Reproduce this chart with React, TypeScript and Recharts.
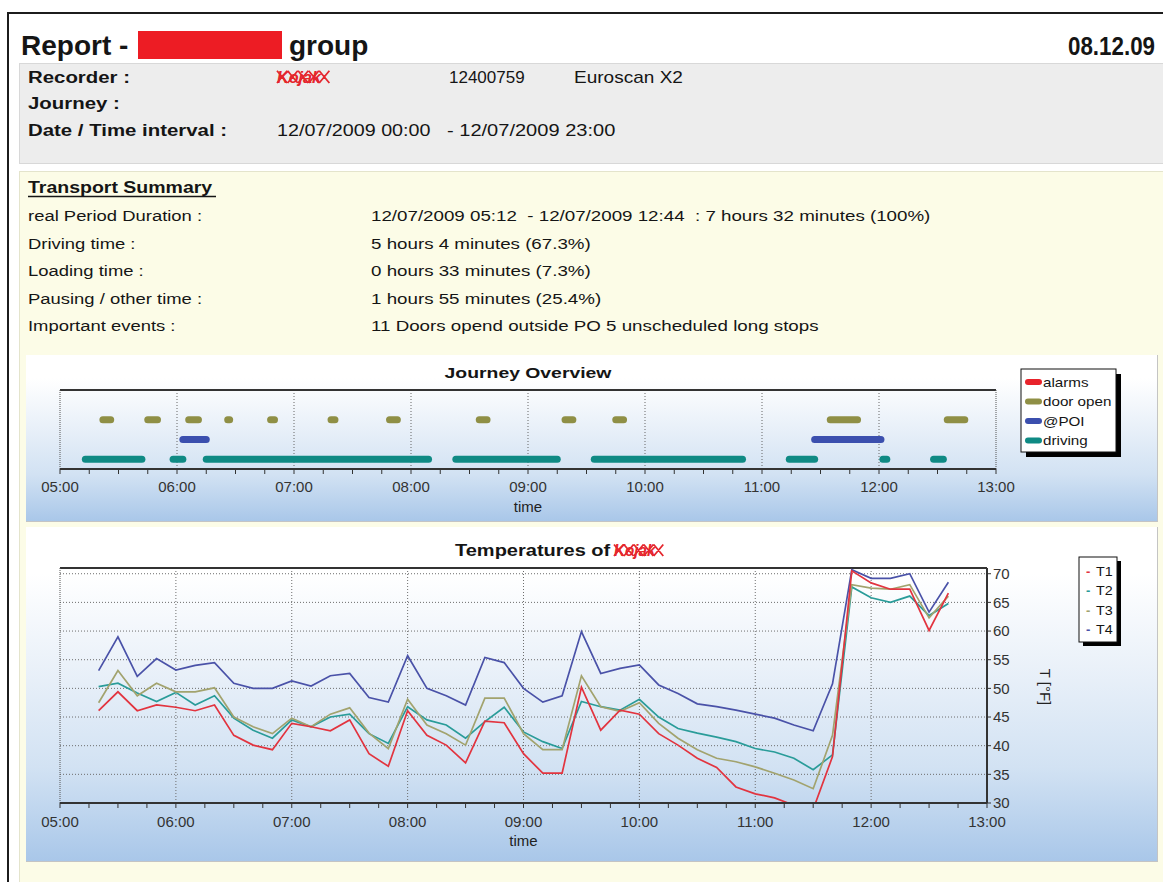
import { CartesianGrid, Line, LineChart, ReferenceLine, XAxis, YAxis } from 'recharts';

const FONT = "'Liberation Sans', Arial, Helvetica, sans-serif";

// time axis
const hourLabels = ['05:00', '06:00', '07:00', '08:00', '09:00', '10:00', '11:00', '12:00', '13:00'];

// temperatures, one sample every 10 minutes
const tempTimes = [
  '05:20', '05:30', '05:40', '05:50', '06:00', '06:10', '06:20', '06:30', '06:40', '06:50',
  '07:00', '07:10', '07:20', '07:30', '07:40', '07:50', '08:00', '08:10', '08:20', '08:30',
  '08:40', '08:50', '09:00', '09:10', '09:20', '09:30', '09:40', '09:50', '10:00', '10:10',
  '10:20', '10:30', '10:40', '10:50', '11:00', '11:10', '11:20', '11:30', '11:40', '11:50',
  '12:00', '12:10', '12:20', '12:30', '12:40',
];
const t1Values = [
  46.1, 49.4, 46.1, 47.1, 46.7, 46.1, 47.1, 41.8, 40.1, 39.3,
  43.9, 43.3, 42.6, 44.5, 38.6, 36.4, 46.1, 41.8, 40.1, 37.0,
  44.3, 44.0, 38.6, 35.2, 35.2, 50.2, 42.7, 46.2, 45.5, 42.1,
  40.1, 37.8, 36.2, 32.8, 31.6, 30.9, 29.6, 28.9, 38.1, 70.5,
  68.4, 67.3, 67.3, 60.1, 66.6,
];
const t2Values = [
  50.3, 50.9, 49.2, 47.7, 49.3, 47.1, 48.7, 44.8, 42.7, 41.3,
  44.5, 43.3, 45.0, 45.5, 42.1, 40.4, 46.8, 44.5, 43.6, 41.3,
  44.2, 46.7, 42.4, 40.7, 39.5, 47.7, 46.8, 46.2, 48.1, 45.0,
  43.0, 42.2, 41.5, 40.7, 39.5, 38.9, 37.8, 35.8, 38.4, 67.7,
  65.8, 65.0, 66.1, 62.7, 64.8,
];
const t3Values = [
  47.5, 53.1, 48.7, 50.9, 49.4, 49.4, 50.1, 45.0, 43.3, 42.1,
  44.8, 43.3, 45.5, 46.6, 42.2, 39.5, 48.1, 43.6, 42.1, 40.1,
  48.3, 48.3, 42.1, 39.3, 39.3, 52.2, 46.8, 46.0, 47.5, 43.9,
  41.3, 39.3, 37.8, 37.2, 36.3, 35.2, 34.0, 32.5, 41.8, 68.1,
  67.5, 67.3, 68.1, 62.3, 66.1,
];
const t4Values = [
  53.1, 59.0, 52.1, 55.2, 53.2, 54.0, 54.5, 50.9, 50.0, 50.0,
  51.3, 50.4, 52.2, 52.6, 48.4, 47.6, 55.7, 50.0, 48.7, 47.1,
  55.4, 54.5, 50.0, 47.6, 48.7, 59.9, 52.6, 53.5, 54.1, 50.6,
  49.1, 47.3, 46.8, 46.2, 45.5, 44.8, 43.6, 42.6, 50.8, 70.7,
  69.2, 69.2, 70.0, 63.3, 68.5,
];
const tempTicks = [30, 35, 40, 45, 50, 55, 60, 65, 70];

// journey events [start, end]
const alarmSegments: string[][] = [];
const doorSegments = [
  ['05:22', '05:26'], ['05:45', '05:50'], ['06:06', '06:11'], ['06:26', '06:27'],
  ['06:48', '06:50'], ['07:19', '07:21'], ['07:49', '07:53'], ['08:35', '08:39'],
  ['09:19', '09:23'], ['09:45', '09:49'], ['11:35', '11:49'], ['12:35', '12:44'],
];
const poiSegments = [['06:03', '06:15'], ['11:27', '12:01']];
const drivingSegments = [
  ['05:13', '05:42'], ['05:58', '06:03'], ['06:15', '08:09'], ['08:23', '09:15'],
  ['09:34', '10:50'], ['11:14', '11:27'], ['12:02', '12:04'], ['12:28', '12:33'],
];

const journeyRows = [
  { name: 'alarms', color: '#e8232b', segments: alarmSegments },
  { name: 'door open', color: '#8f8f45', segments: doorSegments },
  { name: '@POI', color: '#3b4fae', segments: poiSegments },
  { name: 'driving', color: '#0f8a84', segments: drivingSegments },
];

const tempSeries = [
  { key: 'T4', color: '#4a52a8' },
  { key: 'T2', color: '#2a9c99' },
  { key: 'T3', color: '#a2a36e' },
  { key: 'T1', color: '#e2343f' },
];
const tempLegend = [
  { key: 'T1', color: '#e2343f' },
  { key: 'T2', color: '#2a9c99' },
  { key: 'T3', color: '#a2a36e' },
  { key: 'T4', color: '#4a52a8' },
];

const summaryRows = [
  ['real Period Duration :', '12/07/2009 05:12  - 12/07/2009 12:44  : 7 hours 32 minutes (100%)'],
  ['Driving time :', '5 hours 4 minutes (67.3%)'],
  ['Loading time :', '0 hours 33 minutes (7.3%)'],
  ['Pausing / other time :', '1 hours 55 minutes (25.4%)'],
  ['Important events :', '11 Doors opend outside PO 5 unscheduled long stops'],
];

const toMin = (s: string) => {
  const [h, m] = s.split(':').map(Number);
  return h * 60 + m;
};
const hourMins = hourLabels.map(toMin);
const quarterTicks = hourMins.flatMap((m, i) => (i < hourMins.length - 1 ? [m, m + 15, m + 30, m + 45] : [m]));
const innerHours = hourMins.slice(1, -1);
const tickLabel = (v: number) => hourLabels[hourMins.indexOf(v)] ?? '';

const tempData = tempTimes.map((t, i) => ({
  min: toMin(t),
  T1: t1Values[i],
  T2: t2Values[i],
  T3: t3Values[i],
  T4: t4Values[i],
}));

const tickStyle = { fontSize: 15, fill: '#333', fontFamily: FONT };

const Txt = ({ x, y, size, bold, sx = 1, fill = '#151515', anchor = 'start', rotate, italic, children }: any) => (
  <text
    transform={`translate(${x} ${y})${rotate ? ` rotate(${rotate})` : ''} scale(${sx} 1)`}
    fontSize={size}
    fontWeight={bold ? 700 : 400}
    fontStyle={italic ? 'italic' : 'normal'}
    fill={fill}
    textAnchor={anchor}
    fontFamily={FONT}
    style={{ whiteSpace: 'pre' }}
  >
    {children}
  </text>
);

// name scribbled over with red crosses
const Redacted = ({ x, y, size }: any) => {
  const h = size * 0.72;
  const crosses = [0, 1, 2, 3, 4].map((k) => {
    const x0 = x + k * size * 0.62;
    const x1 = x0 + size * 0.6;
    return `M${x0} ${y - h}L${x1} ${y}M${x1} ${y - h}L${x0} ${y}`;
  });
  return (
    <g>
      <Txt x={x} y={y} size={size} bold italic fill="#e5262d" sx={0.95}>Kojak</Txt>
      <path d={crosses.join('')} stroke="#e5262d" strokeWidth={1.8} fill="none" />
    </g>
  );
};

const JourneyChart = () => (
  <LineChart width={1132} height={167} margin={{ top: 35, right: 162, bottom: 8, left: 34 }}>
    <CartesianGrid horizontal={false} verticalValues={innerHours} stroke="#666" strokeDasharray="1 2" />
    <XAxis
      type="number"
      dataKey="min"
      domain={[hourMins[0], hourMins[hourMins.length - 1]]}
      ticks={quarterTicks}
      interval={0}
      tickFormatter={tickLabel}
      tick={tickStyle}
      tickSize={5}
      tickMargin={7}
      height={45}
      stroke="#333"
      axisLine={{ stroke: '#333', strokeWidth: 2 }}
      label={{ value: 'time', position: 'insideBottom', offset: 2, fontSize: 15, fill: '#222', fontFamily: FONT }}
    />
    <YAxis type="number" hide domain={[0, journeyRows.length]} />
    <ReferenceLine y={journeyRows.length} stroke="#333" strokeWidth={2} />
    <ReferenceLine x={hourMins[0]} stroke="#555" strokeDasharray="1 1" />
    <ReferenceLine x={hourMins[hourMins.length - 1]} stroke="#555" strokeDasharray="1 1" />
    {journeyRows.flatMap((row, i) =>
      row.segments.map((seg, j) => (
        <Line
          key={`${row.name}-${j}`}
          data={[
            { min: toMin(seg[0]), level: journeyRows.length - i - 0.5 },
            { min: toMin(seg[1]), level: journeyRows.length - i - 0.5 },
          ]}
          dataKey="level"
          stroke={row.color}
          strokeWidth={7}
          strokeLinecap="round"
          dot={false}
          isAnimationActive={false}
        />
      )),
    )}
  </LineChart>
);

const TempChart = () => (
  <LineChart width={1132} height={335} data={tempData} margin={{ top: 41, right: 131, bottom: 13, left: 34 }}>
    <CartesianGrid verticalValues={innerHours} stroke="#6d6d6d" strokeDasharray="1 2" />
    <XAxis
      type="number"
      dataKey="min"
      domain={[hourMins[0], hourMins[hourMins.length - 1]]}
      ticks={quarterTicks}
      interval={0}
      tickFormatter={tickLabel}
      tick={tickStyle}
      tickSize={5}
      tickMargin={8}
      height={46}
      stroke="#333"
      axisLine={{ stroke: '#333', strokeWidth: 2 }}
      label={{ value: 'time', position: 'insideBottom', offset: 3, fontSize: 15, fill: '#222', fontFamily: FONT }}
    />
    <YAxis
      orientation="right"
      type="number"
      domain={[30, 71]}
      ticks={tempTicks}
      allowDataOverflow
      width={40}
      tick={tickStyle}
      tickSize={4}
      tickMargin={2}
      stroke="#333"
      axisLine={{ stroke: '#333', strokeWidth: 2 }}
    />
    <ReferenceLine y={71} stroke="#333" strokeWidth={2} />
    <ReferenceLine x={hourMins[0]} stroke="#555" strokeDasharray="1 1" />
    {tempSeries.map((s) => (
      <Line
        key={s.key}
        type="linear"
        dataKey={s.key}
        stroke={s.color}
        strokeWidth={1.7}
        dot={false}
        isAnimationActive={false}
      />
    ))}
  </LineChart>
);

const panelStyle = (top: number, height: number) => ({
  position: 'absolute' as const,
  left: 26,
  top,
  width: 1132,
  height,
  boxSizing: 'border-box' as const,
  borderRight: '1px solid #c4c4c4',
  borderBottom: '1px solid #c4c4c4',
  background: 'linear-gradient(to bottom, #ffffff 0%, #ffffff 14%, #eaf1f9 42%, #d2e2f3 72%, #a9c7e9 100%)',
});

export default function App() {
  return (
    <div style={{ position: 'absolute', left: 0, top: 0, width: 1163, height: 882, overflow: 'hidden', background: '#fff', fontFamily: FONT }}>
      <div style={{ position: 'absolute', left: 7, top: 12, width: 1200, height: 900, border: '2px solid #1c1c1c' }} />
      <div style={{ position: 'absolute', left: 19, top: 63, width: 1160, height: 99, background: '#ededed', border: '1px solid #d8d8d8' }} />
      <div style={{ position: 'absolute', left: 19, top: 171, width: 1160, height: 720, background: '#fcfce7', border: '1px solid #e4e4cc' }} />

      <div style={panelStyle(355, 167)}>
        <JourneyChart />
      </div>
      <div style={panelStyle(527, 335)}>
        <TempChart />
      </div>

      <svg width={1163} height={882} style={{ position: 'absolute', left: 0, top: 0, pointerEvents: 'none' }}>
        {/* header */}
        <Txt x={21} y={55} size={28} bold>Report -</Txt>
        <rect x={138} y={31} width={144} height={28} fill="#ed1c24" />
        <Txt x={289} y={55} size={28} bold>group</Txt>
        <Txt x={1155} y={55} size={26} bold sx={0.86} anchor="end">08.12.09</Txt>

        <Txt x={28} y={83} size={17} bold sx={1.2}>Recorder :</Txt>
        <Txt x={28} y={109} size={17} bold sx={1.2}>Journey :</Txt>
        <Txt x={28} y={136} size={17} bold sx={1.2}>Date / Time interval :</Txt>
        <Redacted x={277} y={83} size={17} />
        <Txt x={449} y={83} size={17}>12400759</Txt>
        <Txt x={574} y={83} size={17} sx={1.12}>Euroscan X2</Txt>
        <Txt x={277} y={136} size={17} sx={1.16}>12/07/2009 00:00</Txt>
        <Txt x={447} y={136} size={17} sx={1.18}>- 12/07/2009 23:00</Txt>

        {/* transport summary */}
        <Txt x={28} y={193} size={16} bold sx={1.22}>Transport Summary</Txt>
        <line x1={28} y1={196.5} x2={216} y2={196.5} stroke="#151515" strokeWidth={1.3} />
        {summaryRows.map((r, i) => (
          <g key={r[0]}>
            <Txt x={28} y={221 + i * 27.5} size={15.5} sx={1.19}>{r[0]}</Txt>
            <Txt x={371} y={221 + i * 27.5} size={15.5} sx={1.21}>{r[1]}</Txt>
          </g>
        ))}

        {/* chart titles */}
        <Txt x={528} y={378} size={15.5} bold sx={1.25} anchor="middle">Journey Overview</Txt>
        <Txt x={455} y={556} size={16} bold sx={1.25}>Temperatures of</Txt>
        <Redacted x={614} y={556} size={16} />
        <Txt x={1040} y={687} size={15} rotate={90} anchor="middle" fill="#222">T [°F]</Txt>

        {/* journey legend */}
        <rect x={1026} y={374} width={95} height={83} fill="#000" />
        <rect x={1021} y={369} width={95} height={83} fill="#fff" stroke="#111" />
        {journeyRows.map((row, i) => (
          <g key={row.name}>
            <line x1={1028} x2={1039} y1={382 + i * 19.5} y2={382 + i * 19.5} stroke={row.color} strokeWidth={6} strokeLinecap="round" />
            <Txt x={1043} y={386.5 + i * 19.5} size={13} sx={1.17}>{row.name}</Txt>
          </g>
        ))}

        {/* temperature legend */}
        <rect x={1083} y={561} width={38} height={85} fill="#000" />
        <rect x={1079} y={557} width={38} height={85} fill="#fff" stroke="#111" />
        {tempLegend.map((s, i) => (
          <g key={s.key}>
            <Txt x={1086} y={576 + i * 19.3} size={13} bold fill={s.color}>-</Txt>
            <Txt x={1096} y={576 + i * 19.3} size={13} sx={1.1}>{s.key}</Txt>
          </g>
        ))}
      </svg>
    </div>
  );
}
